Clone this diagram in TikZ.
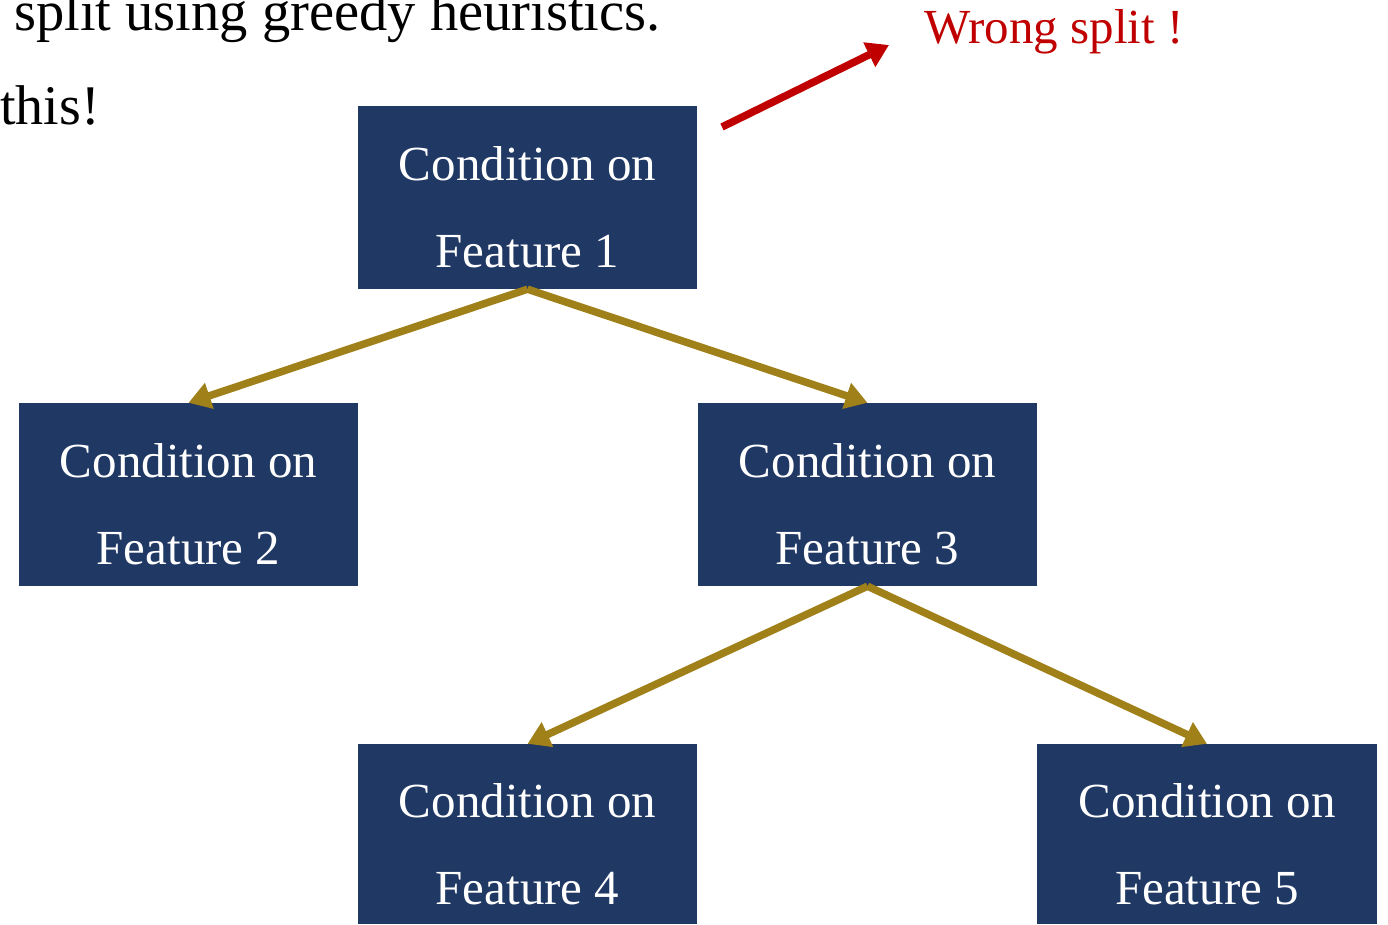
\documentclass[tikz,border=0pt]{standalone}
\usepackage{fontspec}
\setmainfont{Liberation Serif}
\usetikzlibrary{arrows.meta}
\definecolor{boxblue}{RGB}{32,56,100}
\definecolor{arrgold}{RGB}{160,128,25}
\definecolor{wrongred}{RGB}{192,0,0}
\tikzset{
  condbox/.style={fill=boxblue, minimum width=339pt, minimum height=183pt, inner sep=0pt},
  condtext/.style={text=white, inner sep=0pt, align=center, font=\fontsize{49}{87}\selectfont},
  goldarrow/.style={draw=arrgold, line width=7.5pt, -{Triangle[length=22pt,width=26pt]}},
  redarrow/.style={draw=wrongred, line width=7.5pt, -{Triangle[length=22pt,width=26pt]}},
}
\begin{document}
\begin{tikzpicture}[x=1pt,y=-1pt]
\useasboundingbox (0,0) rectangle (1388,925);
\clip (0,0) rectangle (1388,925);
\node[anchor=base west, inner sep=0pt, font=\fontsize{56.5}{60}\selectfont] (t1) at (14,31) {split using greedy heuristics.};
\node[anchor=base west, inner sep=0pt, font=\fontsize{56}{60}\selectfont] (t2) at (0,125) {this!};
\node[anchor=base west, inner sep=0pt, text=wrongred, font=\fontsize{49}{52}\selectfont] (wrong) at (924,44) {Wrong split !};
\node[condbox] (f1) at (527.5,197.5) {};
\node[condbox] (f2) at (188.5,494.5) {};
\node[condbox] (f3) at (867.5,494.5) {};
\node[condbox, minimum height=180pt] (f4) at (527.5,834) {};
\node[condbox, minimum height=180pt, minimum width=340pt] (f5) at (1207,834) {};
\node[condtext] (f1t) at ([yshift=-10pt]f1.center) {Condition on\\Feature 1};
\node[condtext] (f2t) at ([yshift=-10pt]f2.center) {Condition on\\Feature 2};
\node[condtext] (f3t) at ([yshift=-10pt]f3.center) {Condition on\\Feature 3};
\node[condtext] (f4t) at ([yshift=-10pt]f4.center) {Condition on\\Feature 4};
\node[condtext] (f5t) at ([yshift=-10pt]f5.center) {Condition on\\Feature 5};
\coordinate (rs) at (722,127);
\coordinate (re) at (889,45);
\draw[redarrow] (rs) -- (re);
\draw[goldarrow] (f1.south) -- (f2.north);
\draw[goldarrow] (f1.south) -- (f3.north);
\draw[goldarrow] (f3.south) -- (f4.north);
\draw[goldarrow] (f3.south) -- (f5.north);
\end{tikzpicture}
\end{document}
